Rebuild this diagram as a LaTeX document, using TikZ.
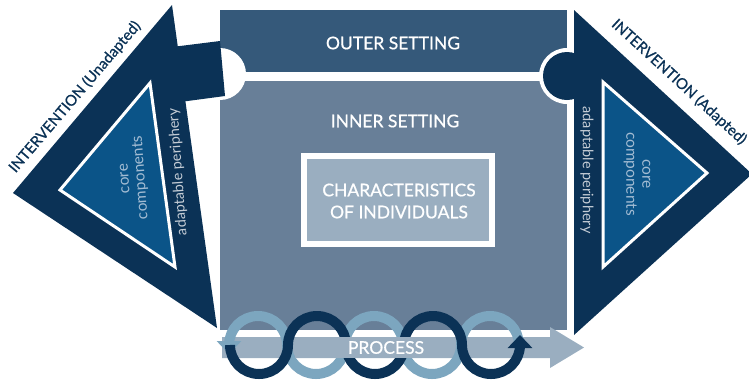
\documentclass[tikz,border=0pt]{standalone}
\usepackage{fontspec}
\setmainfont{Lato}
\newfontfamily\semib{Lato}[FakeBold=0.7]
\usetikzlibrary{arrows.meta}
\definecolor{navy}{HTML}{0B3256}
\definecolor{coreblue}{HTML}{0B5488}
\definecolor{outerfill}{HTML}{35597A}
\definecolor{innerfill}{HTML}{687F98}
\definecolor{charfill}{HTML}{9AAEC0}
\definecolor{ringlight}{HTML}{7CA6BF}
\definecolor{coretext}{HTML}{A3BCD3}
\definecolor{pertext}{HTML}{C4CCD5}

\begin{document}
\begin{tikzpicture}[x=1pt, y=-1pt,
    boxtext/.style={text=white, font=\semib\fontsize{17.5}{22}\selectfont, align=center},
    inttext/.style={text=navy, font=\semib\fontsize{15}{17}\selectfont},
    sidetext/.style={font=\fontsize{14.5}{16}\selectfont, align=center},
    ring/.style={line width=10pt}]
  \useasboundingbox (0,0) rectangle (749,384);
  % the two settings
  \coordinate (os1) at (220,9.5);
  \coordinate (os2) at (567,72);
  \coordinate (is1) at (220,81);
  \coordinate (is2) at (567,330);
  \fill[outerfill] (os1) rectangle (os2);
  \fill[innerfill] (is1) rectangle (is2);
  \fill[white] (220,74) circle (26);
  \fill[white] (567,76) circle (28);

  % intervention, unadapted
  \coordinate (la) at (172,5);
  \coordinate (lb) at (13,193);
  \coordinate (lc) at (217,328);
  \fill[navy] (la) -- (lb) -- (lc) -- cycle;
  \fill[navy] (172,47) -- (220,41) -- (225,96) -- (180,102) -- cycle;
  \coordinate (lia) at (150,83);
  \coordinate (lib) at (60,190);
  \coordinate (lic) at (175,267);
  \filldraw[fill=coreblue, draw=white, line width=3pt] (lia) -- (lib) -- (lic) -- cycle;

  % intervention, adapted
  \coordinate (ra) at (574,10);
  \coordinate (rb) at (752,174);
  \coordinate (rc) at (574,335);
  \fill[navy] (ra) -- (rb) -- (rc) -- cycle;
  \fill[navy] (567,76) circle (24);
  \coordinate (ria) at (603,82);
  \coordinate (rib) at (707,173);
  \coordinate (ric) at (603,267);
  \filldraw[fill=coreblue, draw=white, line width=3pt] (ria) -- (rib) -- (ric) -- cycle;

  % characteristics of individuals
  \fill[white] (301,153) rectangle (495,247);
  \fill[charfill] (307,159) rectangle (489,241);

  % process
  \fill[charfill] (222,337) -- (550,337) -- (550,327) -- (584,347.5)
    -- (550,368) -- (550,358) -- (222,358) -- cycle;
  \draw[ring, ringlight, -{Triangle[width=24pt,length=13pt]}]
    (519,345) arc (360:180:29) arc (0:180:29) arc (360:180:29)
    arc (0:180:29) arc (360:180:29) -- ++(0,9);
  \draw[ring, navy, -{Triangle[width=24pt,length=13pt]}]
    (230,345) arc (180:0:29) arc (180:360:29) arc (180:0:29)
    arc (180:360:29) arc (180:0:29) -- ++(0,-10);
  \fill[charfill] (295,337) rectangle (427,358);

  % labels
  \node[boxtext] (outer) at (393,43) {OUTER SETTING};
  \node[boxtext] (inner) at (395,121) {INNER SETTING};
  \node[boxtext] (chars) at (399,201) {CHARACTERISTICS\\OF INDIVIDUALS};
  \node[boxtext] (process) at (386,347.5) {PROCESS};
  \node[inttext, rotate=49.5] (intL) at (75,97) {INTERVENTION (Unadapted)};
  \node[inttext, rotate=-42.5] (intR) at (679,82) {INTERVENTION (Adapted)};
  \node[sidetext, text=pertext, rotate=94] (perL) at (178,172) {adaptable periphery};
  \node[sidetext, text=pertext, rotate=-90] (perR) at (587,170) {adaptable periphery};
  \node[sidetext, text=coretext, font=\fontsize{15.5}{16}\selectfont, rotate=94] (coreL) at (134,178) {core\\components};
  \node[sidetext, text=coretext, font=\fontsize{15.5}{16}\selectfont, rotate=-90] (coreR) at (637,174) {core\\components};
\end{tikzpicture}
\end{document}
